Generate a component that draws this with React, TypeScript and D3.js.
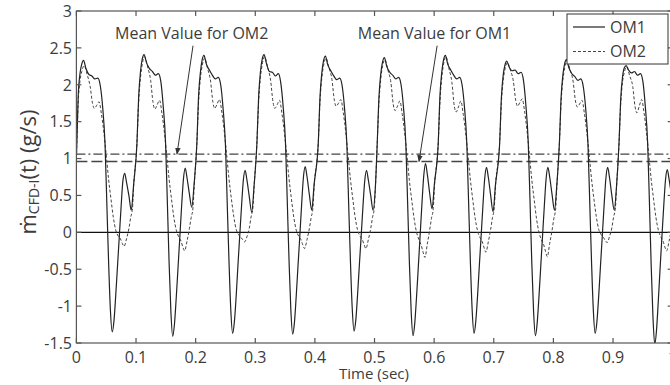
import React from 'react';
import * as d3 from 'd3';

// ---- data ----
const cycleStarts = [0, 0.1015, 0.202, 0.3027, 0.4056, 0.5045, 0.6068, 0.7098, 0.81, 0.91];

const om1Tau = [0, 0.003, 0.006, 0.009, 0.012, 0.016, 0.021, 0.026, 0.031, 0.036, 0.04, 0.044, 0.048, 0.051, 0.054, 0.057, 0.06, 0.063, 0.066, 0.069, 0.072, 0.075, 0.078, 0.081, 0.084, 0.088, 0.092, 0.096];
const om1Cycles = [
  [1.0, 1.85, 2.15, 2.28, 2.33, 2.22, 2.14, 2.12, 2.08, 2.09, 1.99, 1.7, 1.2, 0.4, -0.4, -1.05, -1.35, -1.2, -0.85, -0.45, -0.05, 0.35, 0.7, 0.8, 0.68, 0.5, 0.3, 0.65],
  [1.2, 1.85, 2.18, 2.35, 2.41, 2.3, 2.22, 2.18, 2.13, 2.15, 2.05, 1.72, 1.22, 0.42, -0.42, -1.08, -1.41, -1.24, -0.88, -0.47, -0.06, 0.36, 0.72, 0.87, 0.74, 0.52, 0.34, 0.66],
  [1.2, 1.86, 2.17, 2.34, 2.4, 2.28, 2.2, 2.13, 2.08, 2.1, 2.0, 1.68, 1.18, 0.38, -0.41, -1.06, -1.37, -1.21, -0.86, -0.44, -0.04, 0.36, 0.71, 0.84, 0.71, 0.48, 0.27, 0.63],
  [1.2, 1.85, 2.18, 2.35, 2.41, 2.29, 2.18, 2.17, 2.12, 2.15, 2.03, 1.71, 1.21, 0.41, -0.4, -1.06, -1.38, -1.22, -0.86, -0.45, -0.05, 0.37, 0.74, 0.89, 0.76, 0.51, 0.3, 0.65],
  [1.2, 1.84, 2.16, 2.33, 2.39, 2.27, 2.19, 2.12, 2.07, 2.09, 1.99, 1.69, 1.19, 0.39, -0.39, -1.03, -1.34, -1.19, -0.84, -0.44, -0.05, 0.35, 0.7, 0.84, 0.71, 0.5, 0.3, 0.64],
  [1.2, 1.84, 2.15, 2.31, 2.37, 2.25, 2.17, 2.13, 2.08, 2.1, 2.0, 1.7, 1.2, 0.4, -0.42, -1.08, -1.4, -1.23, -0.87, -0.46, -0.04, 0.38, 0.76, 0.93, 0.79, 0.53, 0.32, 0.66],
  [1.2, 1.86, 2.17, 2.34, 2.4, 2.28, 2.2, 2.13, 2.08, 2.1, 2.0, 1.7, 1.2, 0.4, -0.41, -1.06, -1.37, -1.21, -0.86, -0.45, -0.05, 0.36, 0.73, 0.88, 0.75, 0.5, 0.28, 0.64],
  [1.2, 1.83, 2.13, 2.27, 2.32, 2.24, 2.19, 2.2, 2.15, 2.17, 2.06, 1.73, 1.22, 0.42, -0.42, -1.08, -1.4, -1.23, -0.87, -0.46, -0.05, 0.36, 0.73, 0.88, 0.75, 0.51, 0.3, 0.65],
  [1.2, 1.84, 2.14, 2.29, 2.34, 2.23, 2.15, 2.11, 2.06, 2.08, 1.98, 1.69, 1.19, 0.39, -0.41, -1.06, -1.37, -1.21, -0.86, -0.45, -0.05, 0.36, 0.73, 0.88, 0.75, 0.5, 0.3, 0.64],
  [1.2, 1.82, 2.11, 2.23, 2.26, 2.2, 2.16, 2.18, 2.13, 2.15, 2.05, 1.72, 1.22, 0.42, -0.45, -1.15, -1.52, -1.32, -0.92, -0.48, -0.06, 0.35, 0.71, 0.85, 0.72, 0.5, 0.3, 0.65],
];

const om2Tau = [0, 0.003, 0.006, 0.009, 0.013, 0.018, 0.023, 0.027, 0.03, 0.034, 0.038, 0.042, 0.046, 0.05, 0.054, 0.058, 0.062, 0.066, 0.07, 0.074, 0.077, 0.08, 0.084, 0.088, 0.091, 0.094, 0.096];
const om2Cycles = [
  [1.0, 1.75, 2.05, 2.18, 2.26, 2.14, 1.98, 1.75, 1.68, 1.72, 1.77, 1.6, 1.36, 1.05, 0.72, 0.45, 0.2, 0.03, -0.05, -0.09, -0.15, -0.19, -0.09, 0.05, 0.2, 0.32, 0.62],
  [1.2, 1.78, 2.1, 2.28, 2.38, 2.24, 2.06, 1.76, 1.67, 1.73, 1.79, 1.61, 1.36, 1.05, 0.72, 0.45, 0.2, 0.03, -0.06, -0.12, -0.2, -0.25, -0.12, 0.05, 0.2, 0.33, 0.62],
  [1.2, 1.78, 2.09, 2.26, 2.36, 2.22, 2.05, 1.76, 1.68, 1.74, 1.8, 1.62, 1.37, 1.05, 0.72, 0.45, 0.21, 0.04, -0.03, -0.07, -0.1, -0.13, -0.06, 0.06, 0.21, 0.33, 0.62],
  [1.2, 1.78, 2.1, 2.28, 2.38, 2.24, 2.06, 1.77, 1.68, 1.73, 1.79, 1.61, 1.36, 1.05, 0.72, 0.45, 0.2, 0.03, -0.05, -0.1, -0.17, -0.22, -0.1, 0.05, 0.2, 0.33, 0.62],
  [1.2, 1.78, 2.09, 2.26, 2.36, 2.23, 2.07, 1.79, 1.71, 1.75, 1.8, 1.62, 1.37, 1.05, 0.72, 0.45, 0.2, 0.03, -0.05, -0.1, -0.17, -0.22, -0.1, 0.05, 0.2, 0.33, 0.62],
  [1.2, 1.77, 2.08, 2.25, 2.34, 2.2, 2.03, 1.73, 1.65, 1.71, 1.78, 1.6, 1.35, 1.04, 0.7, 0.43, 0.18, 0.0, -0.1, -0.18, -0.27, -0.34, -0.16, 0.03, 0.19, 0.32, 0.62],
  [1.2, 1.78, 2.1, 2.28, 2.38, 2.22, 2.03, 1.71, 1.63, 1.7, 1.78, 1.6, 1.35, 1.04, 0.71, 0.44, 0.19, 0.02, -0.07, -0.13, -0.21, -0.27, -0.13, 0.04, 0.2, 0.33, 0.62],
  [1.2, 1.76, 2.06, 2.21, 2.3, 2.2, 2.05, 1.79, 1.71, 1.76, 1.81, 1.63, 1.37, 1.05, 0.71, 0.44, 0.18, 0.0, -0.1, -0.17, -0.26, -0.33, -0.15, 0.03, 0.19, 0.32, 0.62],
  [1.2, 1.77, 2.07, 2.23, 2.32, 2.2, 2.05, 1.78, 1.7, 1.74, 1.79, 1.61, 1.36, 1.05, 0.72, 0.45, 0.21, 0.04, -0.03, -0.07, -0.11, -0.14, -0.06, 0.06, 0.21, 0.33, 0.62],
  [1.2, 1.75, 2.04, 2.17, 2.24, 2.12, 1.98, 1.7, 1.62, 1.71, 1.8, 1.62, 1.36, 1.05, 0.72, 0.45, 0.2, 0.03, -0.06, -0.12, -0.2, -0.25, -0.12, 0.05, 0.2, 0.33, 0.62],
];

const meanOM1 = 0.96;
const meanOM2 = 1.06;

const xTicks = [0, 0.1, 0.2, 0.3, 0.4, 0.5, 0.6, 0.7, 0.8, 0.9, 1];
const xTickLabels = ['0', '0.1', '0.2', '0.3', '0.4', '0.5', '0.6', '0.7', '0.8', '0.9', '1'];
const yTicks = [-1.5, -1, -0.5, 0, 0.5, 1, 1.5, 2, 2.5, 3];
const yTickLabels = ['-1.5', '-1', '-0.5', '0', '0.5', '1', '1.5', '2', '2.5', '3'];

const seriesNames = ['OM1', 'OM2'];
const annotationTexts = ['Mean Value for OM2', 'Mean Value for OM1'];

// ---- layout ----
const W = 670;
const H = 385;
const left = 76.4;
const top = 11;
const plotW = 596.25;
const plotH = 332;
const FONT = "'Open Sans', 'DejaVu Sans', sans-serif";
const TXT = '#3c3c3c';
const AX = '#555';

export default function App() {
  const x = d3.scaleLinear().domain([0, 1]).range([left, left + plotW]);
  const y = d3.scaleLinear().domain([-1.5, 3]).range([top + plotH, top]);

  const build = (tau: number[], cycles: number[][]) =>
    cycles.flatMap((vals, i) => vals.map((v, j) => [cycleStarts[i] + tau[j], v] as [number, number]));

  const om1 = build(om1Tau, om1Cycles);
  const om2 = build(om2Tau, om2Cycles);

  const line = d3
    .line<[number, number]>()
    .x((d) => x(d[0]))
    .y((d) => y(d[1]))
    .curve(d3.curveMonotoneX);

  const annotations = [
    { text: annotationTexts[0], tx: 0.0648, ty: 2.615, x1: 0.1956, y1: 2.53, x2: 0.1687, y2: meanOM2 },
    { text: annotationTexts[1], tx: 0.472, ty: 2.615, x1: 0.605, y1: 2.53, x2: 0.5746, y2: meanOM1 },
  ];

  const x0 = x(0), x1 = x(1), y0 = y(-1.5), y1 = y(3);

  return (
    <svg width={W} height={H} style={{ position: 'absolute', left: 0, top: 0, background: '#fff' }} fontFamily={FONT}>
      <defs>
        <clipPath id="plot">
          <rect x={x0} y={y1} width={plotW} height={plotH} />
        </clipPath>
        <marker id="arr" viewBox="0 0 10 10" refX="9" refY="5" markerWidth="7" markerHeight="7" orient="auto">
          <path d="M0,1 L10,5 L0,9 z" fill="#333" />
        </marker>
      </defs>
      <rect x={0} y={0} width={W} height={H} fill="#fff" />

      <g clipPath="url(#plot)">
        <line x1={x0} x2={x1} y1={y(0)} y2={y(0)} stroke="#111" strokeWidth={1.1} />
        <line x1={x0} x2={x1} y1={y(meanOM2)} y2={y(meanOM2)} stroke="#444" strokeWidth={1.3} strokeDasharray="9,3,2,3" />
        <line x1={x0} x2={x1} y1={y(meanOM1)} y2={y(meanOM1)} stroke="#444" strokeWidth={1.3} strokeDasharray="11,4" />
        <path d={line(om2) || ''} fill="none" stroke="#444" strokeWidth={1} strokeDasharray="3,2" />
        <path d={line(om1) || ''} fill="none" stroke="#222" strokeWidth={1.2} />
      </g>

      {/* axes box */}
      <rect x={x0} y={y1} width={plotW} height={plotH} fill="none" stroke={AX} strokeWidth={1.2} />
      {xTicks.map((t, i) => (
        <g key={'xt' + i}>
          <line x1={x(t)} x2={x(t)} y1={y0} y2={y0 - 5} stroke={AX} strokeWidth={1.2} />
          <line x1={x(t)} x2={x(t)} y1={y1} y2={y1 + 5} stroke={AX} strokeWidth={1.2} />
          <text x={x(t)} y={362.5} textAnchor="middle" fontSize={16} fill={TXT}>
            {xTickLabels[i]}
          </text>
        </g>
      ))}
      {yTicks.map((t, i) => (
        <g key={'yt' + i}>
          <line x1={x0} x2={x0 + 5} y1={y(t)} y2={y(t)} stroke={AX} strokeWidth={1.2} />
          <line x1={x1} x2={x1 - 5} y1={y(t)} y2={y(t)} stroke={AX} strokeWidth={1.2} />
          <text x={72} y={y(t)} dy="0.36em" textAnchor="end" fontSize={16} fill={TXT}>
            {yTickLabels[i]}
          </text>
        </g>
      ))}

      {/* annotations */}
      {annotations.map((a, i) => (
        <g key={'an' + i}>
          <text x={x(a.tx)} y={y(a.ty)} fontSize={16} fill={TXT}>
            {a.text}
          </text>
          <line x1={x(a.x1)} y1={y(a.y1)} x2={x(a.x2)} y2={y(a.y2)} stroke="#333" strokeWidth={1} markerEnd="url(#arr)" />
        </g>
      ))}

      {/* legend */}
      <g>
        <rect x={567} y={14} width={101} height={50} fill="#fff" stroke="#333" strokeWidth={1} />
        <line x1={573} x2={605} y1={27} y2={27} stroke="#222" strokeWidth={1.2} />
        <text x={610} y={27} dy="0.36em" fontSize={16} fill={TXT}>{seriesNames[0]}</text>
        <line x1={573} x2={605} y1={51.5} y2={51.5} stroke="#444" strokeWidth={1} strokeDasharray="3,2" />
        <text x={610} y={51.5} dy="0.36em" fontSize={16} fill={TXT}>{seriesNames[1]}</text>
      </g>

      {/* axis labels */}
      <text x={374} y={379} textAnchor="middle" fontSize={15} fill={TXT}>Time (sec)</text>
      <text transform="translate(36,172) rotate(-90)" textAnchor="middle" fontSize={22} fill={TXT}>
        ṁ<tspan fontSize={14} dy="3">CFD-I</tspan>
        <tspan dy="-3">(t) (g/s)</tspan>
      </text>
    </svg>
  );
}
